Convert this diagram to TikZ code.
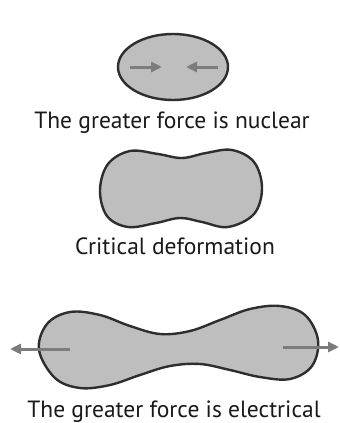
\documentclass[tikz,border=0pt]{standalone}
\usepackage{fontspec}
\setmainfont{PT Sans}
\usetikzlibrary{arrows.meta}
\definecolor{nucfill}{HTML}{BEBEBE}
\definecolor{nucedge}{HTML}{2E2E2E}
\definecolor{forcegray}{HTML}{7C7C7C}
\tikzset{
  nucleus/.style={fill=nucfill, draw=nucedge, line width=2.4pt},
  force/.style={draw=forcegray, line width=3pt,
    -{Triangle[length=11pt,width=10pt]}},
  caption/.style={anchor=base, inner sep=0pt, text=black!90,
    font=\fontsize{23.5}{26}\selectfont},
}
\begin{document}
\begin{tikzpicture}[x=1pt,y=-1pt]
\useasboundingbox (0,0) rectangle (340,423);

% nearly spherical nucleus, forces pointing inwards
\draw[nucleus] (173,67) ellipse [x radius=55, y radius=33];
\coordinate (la) at (130,67);
\coordinate (lb) at (162,67);
\coordinate (ra) at (218,67);
\coordinate (rb) at (186,67);
\draw[force] (la) -- (lb);
\draw[force] (ra) -- (rb);
\node[caption] (t1) at (172,128) {The greater force is nuclear};

% nucleus at the critical deformation
\draw[nucleus] plot[smooth cycle, tension=0.6] coordinates {
  (100,190) (108,164) (130,151) (158,154) (182,158) (206,153)
  (232,150) (254,162) (262,188) (254,214) (228,227) (202,222)
  (180,218) (156,223) (128,227) (107,216)};
\node[caption] (t2) at (175,254) {Critical deformation};

% elongated nucleus, forces pointing outwards
\draw[nucleus] plot[smooth cycle, tension=0.6] coordinates {
  (39,350) (47,324) (70,312) (100,315) (130,326) (160,334)
  (190,331) (220,320) (250,309) (280,306) (305,315) (318,340)
  (312,366) (290,379) (260,377) (230,370) (200,364) (170,366)
  (140,375) (110,385) (80,388) (55,378)};
\coordinate (lo) at (70,349);
\coordinate (le) at (10,349);
\coordinate (ro) at (283,347);
\coordinate (re) at (339,347);
\draw[force] (lo) -- (le);
\draw[force] (ro) -- (re);
\node[caption] (t3) at (174,417) {The greater force is electrical};
\end{tikzpicture}
\end{document}
